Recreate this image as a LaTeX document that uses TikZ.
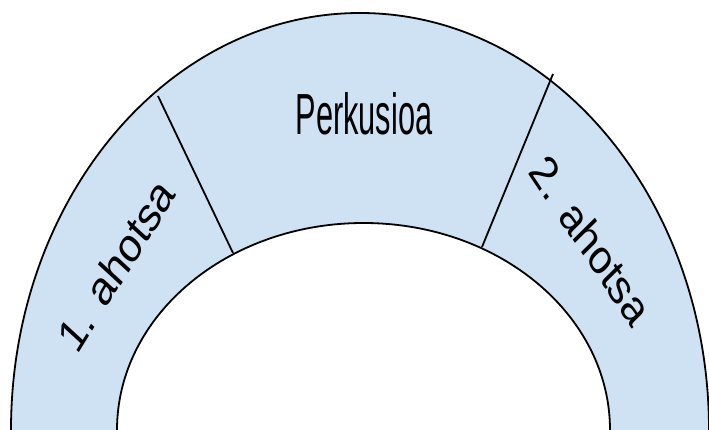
\documentclass[tikz,border=0pt]{standalone}
\usepackage{fontspec}
\setmainfont{Liberation Sans}
\definecolor{bandblue}{HTML}{CFE2F3}
\begin{document}
\begin{tikzpicture}[x=1pt,y=-1pt,
  band/.style={fill=bandblue,draw=black,line width=1.8pt,even odd rule},
  divider/.style={draw=black,line width=1.8pt},
  bigtext/.style={font=\fontsize{58}{60}\selectfont,inner sep=0pt},
  sidetext/.style={font=\fontsize{48}{50}\selectfont,inner sep=0pt}]
\useasboundingbox (0,0) rectangle (709,430);
\clip (0,0) rectangle (709,430);
\path[band] (360,430) ellipse [x radius=349, y radius=417]
            (363.5,430) ellipse [x radius=246.5, y radius=207];
\coordinate (l1) at (158,96);
\coordinate (l2) at (233,253);
\coordinate (r1) at (553,74);
\coordinate (r2) at (482,247);
\draw[divider] (l1) -- (l2);
\draw[divider] (r1) -- (r2);
\node[bigtext,xscale=0.53] (perk) at (364,114) {Perkusioa};
\node[sidetext,xscale=0.82,rotate=53] (v1) at (116,265) {1. ahotsa};
\node[sidetext,xscale=0.82,rotate=-51] (v2) at (591,240) {2. ahotsa};
\end{tikzpicture}
\end{document}
